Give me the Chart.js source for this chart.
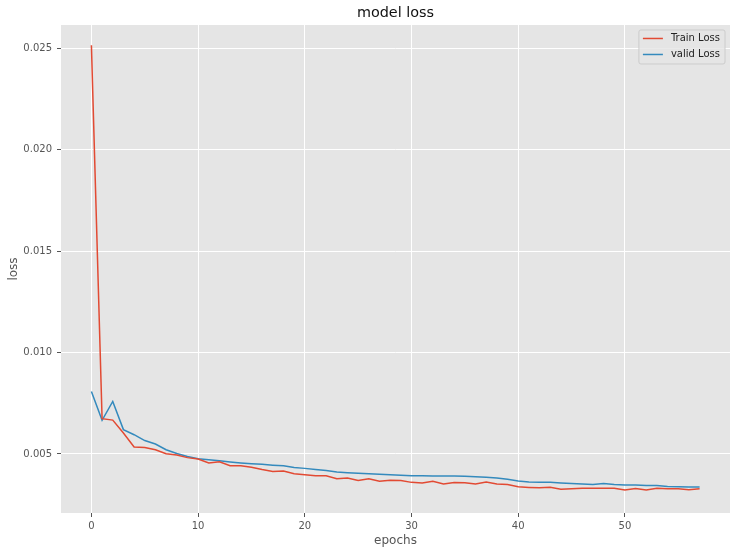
<!DOCTYPE html>
<html>
<head>
<meta charset="utf-8">
<script src="https://cdn.jsdelivr.net/npm/chart.js@4/dist/chart.umd.min.js"></script>
<style>
  html, body { margin: 0; padding: 0; background: #ffffff; }
  #c { display: block; }
</style>
</head>
<body>
<canvas id="c" width="736" height="554"></canvas>
<script>
const epochs = [0,1,2,3,4,5,6,7,8,9,10,11,12,13,14,15,16,17,18,19,20,21,22,23,24,25,26,27,28,29,30,31,32,33,34,35,36,37,38,39,40,41,42,43,44,45,46,47,48,49,50,51,52,53,54,55,56,57];
const trainLoss = [0.02515,0.00674,0.00667,0.00603,0.00534,0.00532,0.00521,0.00501,0.00495,0.00482,
  0.00475,0.00456,0.00462,0.00442,0.00442,0.00434,0.00423,0.00414,0.00416,0.00403,
  0.00398,0.00393,0.00393,0.00378,0.00381,0.00369,0.00378,0.00366,0.00371,0.00369,
  0.00360,0.00357,0.00365,0.00352,0.00359,0.00358,0.00352,0.00362,0.00352,0.00350,
  0.00338,0.00335,0.00333,0.00336,0.00326,0.00329,0.00331,0.00331,0.00331,0.00331,
  0.00323,0.00330,0.00323,0.00331,0.00328,0.00328,0.00324,0.00328];
const validLoss = [0.00808,0.00666,0.00759,0.00620,0.00595,0.00566,0.00549,0.00521,0.00502,0.00488,
  0.00477,0.00472,0.00467,0.00461,0.00456,0.00452,0.00449,0.00445,0.00442,0.00433,
  0.00429,0.00423,0.00418,0.00411,0.00408,0.00405,0.00402,0.00400,0.00398,0.00395,
  0.00393,0.00393,0.00391,0.00391,0.00391,0.00390,0.00388,0.00385,0.00382,0.00375,
  0.00367,0.00362,0.00360,0.00360,0.00357,0.00355,0.00352,0.00350,0.00355,0.00350,
  0.00347,0.00347,0.00345,0.00344,0.00340,0.00338,0.00337,0.00337];
const seriesLabels = ['Train Loss', 'valid Loss'];
const titleText = 'model loss';
const xLabel = 'epochs';
const yLabel = 'loss';

const FONT = "'DejaVu Sans', 'Liberation Sans', sans-serif";
const RED = '#E24A33';
const BLUE = '#348ABD';

const bgPlugin = {
  id: 'plotBg',
  beforeDraw(chart) {
    const {ctx, chartArea: a} = chart;
    ctx.save();
    ctx.fillStyle = '#E5E5E5';
    ctx.fillRect(a.left, a.top, a.right - a.left, a.bottom - a.top);
    ctx.restore();
  }
};

const legendPlugin = {
  id: 'mplLegend',
  afterDraw(chart) {
    const {ctx, chartArea: a} = chart;
    const fontSize = 10;
    ctx.save();
    ctx.font = fontSize + 'px ' + FONT;
    const ds = chart.data.datasets;
    let maxW = 0;
    ds.forEach(d => { maxW = Math.max(maxW, ctx.measureText(d.label).width); });
    const w = 4 + 20 + 8 + maxW + 5;
    const h = 34;
    const x = a.right - 5 - w;
    const y = a.top + 5;
    const r = 2;
    ctx.beginPath();
    ctx.moveTo(x + r, y);
    ctx.lineTo(x + w - r, y);
    ctx.arcTo(x + w, y, x + w, y + r, r);
    ctx.lineTo(x + w, y + h - r);
    ctx.arcTo(x + w, y + h, x + w - r, y + h, r);
    ctx.lineTo(x + r, y + h);
    ctx.arcTo(x, y + h, x, y + h - r, r);
    ctx.lineTo(x, y + r);
    ctx.arcTo(x, y, x + r, y, r);
    ctx.closePath();
    ctx.fillStyle = 'rgba(229,229,229,0.8)';
    ctx.fill();
    ctx.strokeStyle = '#CCCCCC';
    ctx.lineWidth = 1;
    ctx.stroke();
    ds.forEach((d, i) => {
      const cy = y + 8.5 + i * 16;
      ctx.strokeStyle = d.borderColor;
      ctx.lineWidth = 1.5;
      ctx.beginPath();
      ctx.moveTo(x + 4, cy);
      ctx.lineTo(x + 24, cy);
      ctx.stroke();
      ctx.fillStyle = '#222222';
      ctx.textBaseline = 'middle';
      ctx.textAlign = 'left';
      ctx.fillText(d.label, x + 32, cy);
    });
    ctx.restore();
  }
};

const toPoints = (xs, ys) => xs.map((e, i) => ({x: e, y: ys[i]}));

new Chart(document.getElementById('c'), {
  type: 'line',
  data: {
    datasets: [
      { label: seriesLabels[0], data: toPoints(epochs, trainLoss), borderColor: RED, backgroundColor: RED,
        borderWidth: 1.5, pointRadius: 0, tension: 0, fill: false },
      { label: seriesLabels[1], data: toPoints(epochs, validLoss), borderColor: BLUE, backgroundColor: BLUE,
        borderWidth: 1.5, pointRadius: 0, tension: 0, fill: false }
    ]
  },
  options: {
    responsive: false,
    animation: false,
    devicePixelRatio: 1,
    layout: { padding: { left: 0, right: 6, top: 0, bottom: 0 } },
    plugins: {
      legend: { display: false },
      tooltip: { enabled: false },
      title: {
        display: true, text: titleText, fullSize: false, color: '#111111',
        font: { family: FONT, size: 14.4, weight: 'normal' },
        padding: { top: 5, bottom: 2.7 }
      }
    },
    scales: {
      x: {
        type: 'linear', min: -2.85, max: 59.85,
        afterFit(s) { s.height = 41; },
        border: { display: false },
        grid: { color: '#FFFFFF', lineWidth: 1, tickColor: '#555555', tickLength: 4, drawTicks: true },
        ticks: { stepSize: 10, includeBounds: false, color: '#555555', padding: 3,
                 font: { family: FONT, size: 10 }, maxRotation: 0 },
        title: { display: true, text: xLabel, color: '#555555',
                 font: { family: FONT, size: 12 }, padding: { top: 0, bottom: 6 } }
      },
      y: {
        type: 'linear', min: 0.00209, max: 0.02615,
        afterFit(s) { s.width = 61; },
        border: { display: false },
        grid: { color: '#FFFFFF', lineWidth: 1, tickColor: '#555555', tickLength: 4, drawTicks: true },
        ticks: { stepSize: 0.005, includeBounds: false, color: '#555555', padding: 5,
                 font: { family: FONT, size: 10 },
                 callback: v => v.toFixed(3) },
        title: { display: true, text: yLabel, color: '#555555',
                 font: { family: FONT, size: 12 }, padding: { top: 7, bottom: 0 } }
      }
    }
  },
  plugins: [bgPlugin, legendPlugin]
});
</script>
</body>
</html>
